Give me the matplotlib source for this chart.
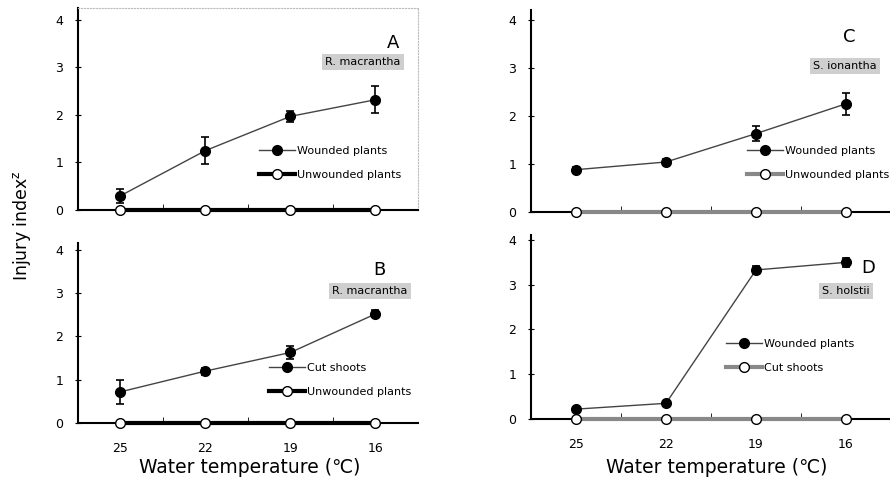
import matplotlib
matplotlib.use('Agg')
import matplotlib.pyplot as plt
import numpy as np

temps = ['25', '22', '19', '16']

a_wounded = [0.30, 1.25, 1.97, 2.32]
a_err = [0.15, 0.28, 0.12, 0.28]
b_cut = [0.72, 1.20, 1.63, 2.52]
b_err = [0.28, 0.08, 0.15, 0.08]
c_wounded = [0.88, 1.04, 1.63, 2.25]
c_err = [0.05, 0.06, 0.15, 0.23]
d_wounded = [0.22, 0.35, 3.33, 3.50]
d_err = [0.04, 0.05, 0.08, 0.10]
zeros = [0, 0, 0, 0]

plt.rcParams['font.family'] = ['DejaVu Sans']
fig = plt.figure(figsize=(8.9, 4.79), dpi=100)
x = np.arange(len(temps))


def panel(rect, ytop, y1, e1, lab1, lab2, ctrl_col, letter, species,
          leg_xy, letter_xy, box_xy, xlabels):
    ax = fig.add_axes(rect)
    ax.plot(x, zeros, '-o', color=ctrl_col, lw=3, ms=7, mfc='white', mec='black',
            mew=1.0, label=lab2, clip_on=False, zorder=3)
    ax.errorbar(x, y1, yerr=e1, fmt='none', ecolor='black', elinewidth=1.2,
                capsize=3, capthick=1.2, clip_on=False, zorder=4)
    ax.plot(x, y1, '-o', color='#444444', lw=1, ms=7, mfc='black', mec='black',
            label=lab1, clip_on=False, zorder=5)
    ax.set_xlim(-0.5, 3.5)
    ax.set_ylim(0, ytop)
    ax.set_yticks([0, 1, 2, 3, 4])
    ax.tick_params(axis='y', direction='inout', length=5, labelsize=9, pad=8)
    ax.set_xticks(x)
    ax.set_xticks([0.5, 1.5, 2.5], minor=True)
    ax.tick_params(axis='x', which='major', length=0, labelsize=9, pad=14)
    ax.tick_params(axis='x', which='minor', direction='in', length=4)
    if xlabels:
        ax.set_xticklabels(temps)
    else:
        ax.set_xticklabels([])
    for s in ['top', 'right']:
        ax.spines[s].set_visible(False)
    ax.spines['left'].set_linewidth(1.5)
    ax.spines['bottom'].set_linewidth(1.5)
    h, l = ax.get_legend_handles_labels()
    ax.legend(h[::-1], l[::-1], loc='upper left', bbox_to_anchor=leg_xy,
              frameon=False, fontsize=8, handlelength=3.2, handletextpad=0.2,
              labelspacing=1.3, borderaxespad=0)
    ax.text(letter_xy[0], letter_xy[1], letter, transform=ax.transAxes,
            ha='center', va='center', fontsize=13,
            family=['Liberation Sans Narrow', 'DejaVu Sans'])
    ax.text(box_xy[0], box_xy[1], species, transform=ax.transAxes,
            ha='center', va='center', fontsize=8,
            bbox=dict(boxstyle='square,pad=0.3', fc='#cfcfcf', ec='none'))
    return ax


axA = panel([0.0876, 0.5616, 0.382, 0.4217], 4.25, a_wounded, a_err,
            'Wounded plants', 'Unwounded plants', 'black', 'A', 'R. macrantha',
            (0.52, 0.34), (0.926, 0.827), (0.838, 0.733), False)
for s in ['top', 'right']:
    axA.spines[s].set_visible(True)
    axA.spines[s].set_color('#bbbbbb')
    axA.spines[s].set_linestyle(':')

panel([0.0876, 0.1169, 0.382, 0.3758], 4.16, b_cut, b_err,
      'Cut shoots', 'Unwounded plants', 'black', 'B', 'R. macrantha',
      (0.55, 0.36), (0.888, 0.85), (0.859, 0.733), True)

panel([0.5966, 0.5574, 0.4045, 0.4217], 4.2, c_wounded, c_err,
      'Wounded plants', 'Unwounded plants', '#888888', 'C', 'S. ionantha',
      (0.589, 0.35), (0.883, 0.866), (0.872, 0.723), False)

panel([0.5966, 0.1253, 0.4045, 0.384], 4.11, d_wounded, d_err,
      'Wounded plants', 'Cut shoots', '#888888', 'D', 'S. holstii',
      (0.53, 0.46), (0.936, 0.82), (0.875, 0.696), True)

fig.text(0.28, 0.025, 'Water temperature (\u2103)', ha='center', va='center', fontsize=13.5)
fig.text(0.805, 0.025, 'Water temperature (\u2103)', ha='center', va='center', fontsize=13.5)
fig.text(0.025, 0.53, 'Injury index$^{\\mathrm{z}}$', rotation=90, ha='center',
         va='center', fontsize=12.5)

fig.savefig('out.png', dpi=100)
